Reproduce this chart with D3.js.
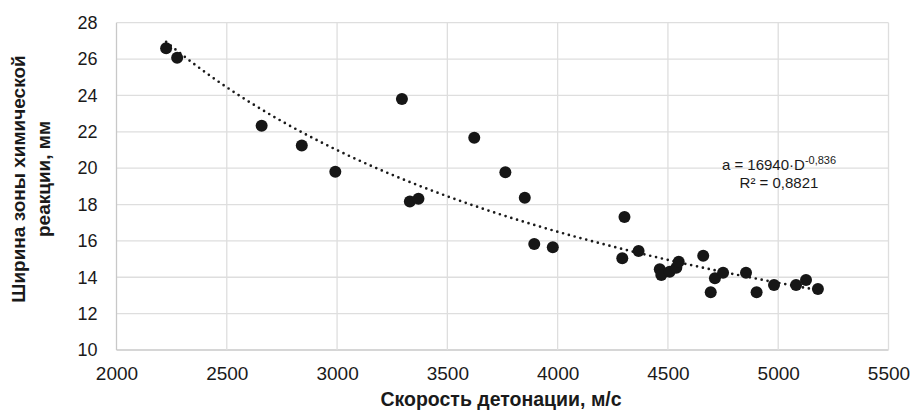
<!DOCTYPE html>
<html><head><meta charset="utf-8">
<script src="https://cdn.jsdelivr.net/npm/d3@7"></script>
<style>body{margin:0;background:#fff;} text{font-family:"Liberation Sans",Arial,sans-serif;}</style>
</head><body><svg id="c" width="911" height="415"></svg>
<script>
const speed = [2225,2275,2658,2840,2992,3294,3330,3369,3622,3763,3851,3894,3978,4303,4293,4367,4463,4470,4508,4538,4549,4660,4694,4713,4750,4854,4902,4981,5081,5126,5180];
const width = [26.59,26.07,22.33,21.25,19.8,23.8,18.17,18.32,21.67,19.77,18.37,15.83,15.65,17.31,15.04,15.44,14.44,14.12,14.3,14.52,14.85,15.18,13.17,13.94,14.25,14.25,13.17,13.57,13.57,13.85,13.35];
const xTicks = [2000,2500,3000,3500,4000,4500,5000,5500];
const yTicks = [10,12,14,16,18,20,22,24,26,28];
const fitA = 16940, fitB = -0.836;

const svg = d3.select("#c");
const x = d3.scaleLinear().domain([2000,5500]).range([116.5,888.5]);
const y = d3.scaleLinear().domain([10,28]).range([350,22.7]);

// grid
svg.append("g").selectAll("line").data(yTicks).join("line")
  .attr("x1",x.range()[0]).attr("x2",x.range()[1])
  .attr("y1",d=>y(d)).attr("y2",d=>y(d))
  .attr("stroke",d=>d===10?"#c8c8c8":"#dedede").attr("stroke-width",1.3);
svg.append("g").selectAll("line").data(xTicks).join("line")
  .attr("y1",y.range()[0]).attr("y2",y.range()[1])
  .attr("x1",d=>x(d)).attr("x2",d=>x(d))
  .attr("stroke",d=>d===2000?"#c8c8c8":"#dedede").attr("stroke-width",1.3);

// axes labels
const xa = svg.append("g").attr("transform",`translate(0,${y(10)})`)
  .call(d3.axisBottom(x).tickValues(xTicks).tickSize(0).tickPadding(17).tickFormat(d3.format("d")));
xa.select(".domain").remove();
xa.selectAll("text").attr("font-size",19).attr("fill","#1a1a1a").style("font-family","Liberation Sans, Arial");
const ya = svg.append("g").attr("transform",`translate(${x(2000)},0)`)
  .call(d3.axisLeft(y).tickValues(yTicks).tickSize(0).tickPadding(19).tickFormat(d3.format("d")));
ya.select(".domain").remove();
ya.selectAll("text").attr("font-size",18).attr("fill","#1a1a1a").style("font-family","Liberation Sans, Arial");

// trend line
const tx = d3.range(d3.min(speed), d3.max(speed)+1, 10);
const line = d3.line().x(d=>x(d)).y(d=>y(fitA*Math.pow(d,fitB)));
svg.append("path").datum(tx).attr("d",line).attr("fill","none")
  .attr("stroke","#1a1a1a").attr("stroke-width",2.7).attr("stroke-linecap","round")
  .attr("stroke-dasharray","0,6");

// points
svg.append("g").selectAll("circle").data(speed).join("circle")
  .attr("cx",d=>x(d)).attr("cy",(d,i)=>y(width[i])).attr("r",6).attr("fill","#161616");

// titles
svg.append("text").attr("x",501).attr("y",406).attr("text-anchor","middle")
  .attr("font-size",19.5).attr("font-weight","bold").attr("fill","#1a1a1a").text("Скорость детонации, м/с");
const yt = svg.append("text").attr("transform","translate(0,179) rotate(-90)")
  .attr("text-anchor","middle").attr("font-size",19).attr("font-weight","bold").attr("fill","#1a1a1a");
yt.append("tspan").attr("x",0).attr("y",25).text("Ширина зоны химической");
yt.append("tspan").attr("x",0).attr("y",50).text("реакции, мм");

// equation
const eq = svg.append("text").attr("x",779).attr("y",170).attr("text-anchor","middle").attr("font-size",15).attr("fill","#1a1a1a");
eq.append("tspan").text("a = 16940·D");
eq.append("tspan").attr("dy",-6).attr("font-size",11).text("-0,836");
svg.append("text").attr("x",779).attr("y",188).attr("text-anchor","middle").attr("font-size",15).attr("fill","#1a1a1a").text("R² = 0,8821");
</script></body></html>
